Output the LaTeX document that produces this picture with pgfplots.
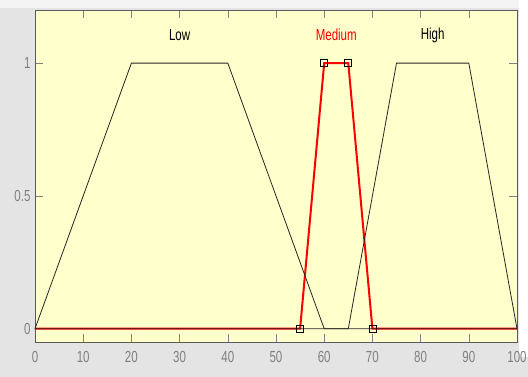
\documentclass[border=0pt]{standalone}
\usepackage{fontspec}
\setmainfont{Liberation Sans}
\usepackage{graphicx}
\usepackage{pgfplots}
\pgfplotsset{compat=1.18}
\definecolor{bgyel}{RGB}{255,255,204}
\definecolor{outgray}{RGB}{228,228,228}
\definecolor{tickgray}{RGB}{128,128,128}
\definecolor{mred}{RGB}{255,0,0}
\begin{document}
\begin{tikzpicture}[x=1pt,y=1pt]
\useasboundingbox (0,0) rectangle (528,377);
\fill[outgray] (0,0) rectangle (528,377);
\fill[white!60!outgray] (0,369) rectangle (528,377);
\fill[white] (519,20) rectangle (528,377);
\begin{axis}[
  at={(35pt,35pt)}, anchor=south west,
  scale only axis, width=482pt, height=332pt,
  xmin=0, xmax=100, ymin=-0.05, ymax=1.2,
  axis background/.style={fill=bgyel},
  axis line style={tickgray!70!black, line width=0.6pt},
  xtick={0,10,...,100}, ytick={0,0.5,1},
  tick align=inside, tick pos=both,
  major tick length=8pt,
  every tick/.style={tickgray, line width=0.6pt},
  x tick label style={yshift=-6pt},
  y tick label style={xshift=-1pt},
  xticklabel={\scalebox{0.72}[1]{\pgfmathprintnumber[assume math mode=true]{\tick}}},
  yticklabel={\scalebox{0.72}[1]{\pgfmathprintnumber[assume math mode=true]{\tick}}},
  ticklabel style={font=\fontsize{16}{17}\selectfont, text=tickgray},
  clip=false,
]
\addplot[mred, line width=2pt] coordinates {(0,0) (55,0) (60,1) (65,1) (70,0) (100,0)};
\addplot[only marks, mark=square, mark size=3.5pt, mark options={black, line width=0.7pt}] coordinates {(55,0) (60,1) (65,1) (70,0)};
\addplot[black!85, line width=0.8pt] coordinates {(0,0) (20,1) (40,1) (60,0) (100,0)};
\addplot[black!85, line width=0.8pt] coordinates {(0,0) (65,0) (75,1) (90,1) (100,0)};
\node[font=\fontsize{16}{17}\selectfont] at (axis cs:30,1.105) {\scalebox{0.72}[1]{Low}};
\node[font=\fontsize{16}{17}\selectfont, text=mred] at (axis cs:62.5,1.105) {\scalebox{0.72}[1]{Medium}};
\node[font=\fontsize{16}{17}\selectfont] at (axis cs:82.5,1.105) {\scalebox{0.72}[1]{High}};
\end{axis}
\end{tikzpicture}
\end{document}
